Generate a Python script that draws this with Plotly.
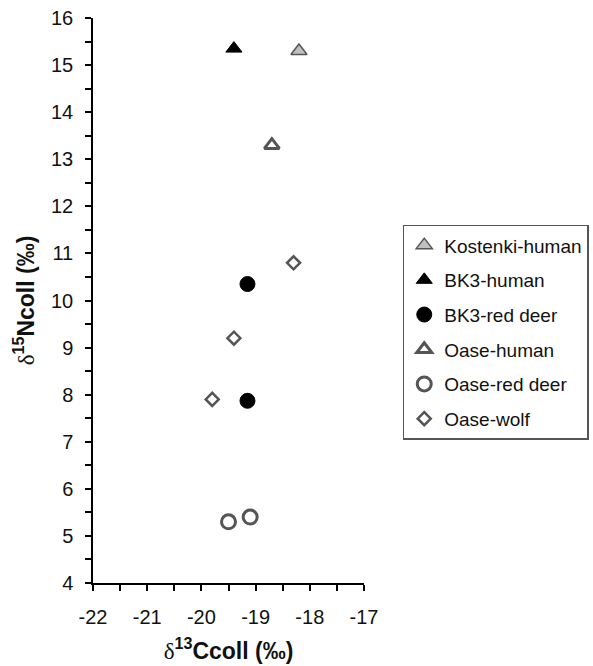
import plotly.graph_objects as go

# Data (d13C, d15N)
kostenki_x = [-18.2]
kostenki_y = [15.3]
bk3_human_x = [-19.4]
bk3_human_y = [15.35]
bk3_deer_x = [-19.15, -19.15]
bk3_deer_y = [10.35, 7.87]
oase_human_x = [-18.7]
oase_human_y = [13.3]
oase_deer_x = [-19.5, -19.1]
oase_deer_y = [5.3, 5.4]
oase_wolf_x = [-18.3, -19.4, -19.8]
oase_wolf_y = [10.8, 9.2, 7.9]

names = ["Kostenki-human", "BK3-human", "BK3-red deer", "Oase-human", "Oase-red deer", "Oase-wolf"]

x_tickvals = [-22, -21, -20, -19, -18, -17]
x_ticktext = ["-22", "-21", "-20", "-19", "-18", "-17"]

FONT = "Liberation Sans, Arial, sans-serif"
EDGE = "#555555"

series = [
    (kostenki_x, kostenki_y, dict(symbol="triangle-up", size=14, color="#c0c0c0", line=dict(color=EDGE, width=1.5))),
    (bk3_human_x, bk3_human_y, dict(symbol="triangle-up", size=14, color="black", line=dict(color="black", width=1))),
    (bk3_deer_x, bk3_deer_y, dict(symbol="circle", size=15, color="black", line=dict(color="black", width=1))),
    (oase_human_x, oase_human_y, dict(symbol="triangle-up", size=13, color="white", line=dict(color=EDGE, width=3))),
    (oase_deer_x, oase_deer_y, dict(symbol="circle", size=14, color="white", line=dict(color=EDGE, width=3))),
    (oase_wolf_x, oase_wolf_y, dict(symbol="diamond", size=10, color="white", line=dict(color=EDGE, width=2.5))),
]

fig = go.Figure()
for i, (xs, ys, mk) in enumerate(series):
    fig.add_trace(go.Scatter(x=xs, y=ys, mode="markers", name=names[i], marker=mk,
                             legendgroup=str(i), cliponaxis=False))

axis_common = dict(
    showline=True, linecolor="black", linewidth=1.5, mirror=False,
    showgrid=False, zeroline=False,
    ticks="outside", ticklen=6, tickwidth=1.5, tickcolor="black",
    tickfont=dict(family=FONT, size=20, color="#111111"),
)

fig.update_xaxes(range=[-22, -17], tickmode="array", tickvals=x_tickvals, ticktext=x_ticktext,
                 ticklabelstandoff=9,
                 minor=dict(dtick=0.5, tick0=-22, ticks="outside", ticklen=6, tickwidth=1.5, tickcolor="black"),
                 title=dict(text="<span style=\"font-family:'Liberation Serif',serif;font-weight:normal\">δ</span><b><sup>13</sup>Ccoll (‰)</b>",
                            font=dict(family=FONT, size=23, color="#111111"), standoff=16),
                 **axis_common)
fig.update_yaxes(range=[4, 16], dtick=1, tick0=4, ticklabelstandoff=8,
                 minor=dict(dtick=0.5, ticks="outside", ticklen=6, tickwidth=1.5, tickcolor="black"),
                 title=dict(text="<span style=\"font-family:'Liberation Serif',serif;font-weight:normal\">δ</span><b><sup>15</sup>Ncoll (‰)</b>",
                            font=dict(family=FONT, size=23, color="#111111"), standoff=10),
                 **axis_common)

fig.update_layout(
    width=593, height=666,
    margin=dict(l=93, r=229, t=18, b=83, autoexpand=False),
    paper_bgcolor="white", plot_bgcolor="white",
    showlegend=True,
    legend=dict(x=1.143, y=0.634, xanchor="left", yanchor="top",
                bordercolor="#555555", borderwidth=1.5, bgcolor="white",
                font=dict(family=FONT, size=19, color="#111111"),
                traceorder="grouped", tracegroupgap=7, itemwidth=30),
)

fig.write_html("out.html", config={"displayModeBar": False},
               post_script="document.body.style.margin='0';document.body.style.overflow='hidden';")
